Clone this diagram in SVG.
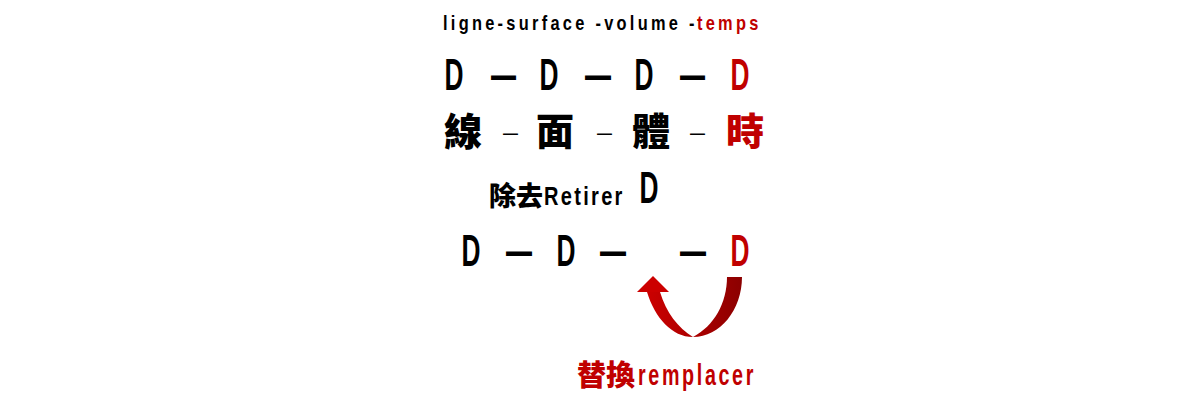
<svg xmlns="http://www.w3.org/2000/svg" width="1200" height="400" viewBox="0 0 1200 400">
<defs>
<style>
.lat{font-family:"Liberation Sans","DejaVu Sans",sans-serif;font-weight:bold;fill:#000}
.cjk{font-family:"Noto Sans CJK TC","Noto Sans CJK SC",sans-serif;font-weight:900;fill:#000}
.red{fill:#c00000}
.d{font-family:"Liberation Sans","DejaVu Sans",sans-serif;font-weight:bold;font-size:44px;text-anchor:middle}
.dash{font-family:"Liberation Sans","DejaVu Sans",sans-serif;font-weight:bold;font-size:44px}
.sd{font-family:"Liberation Sans","DejaVu Sans",sans-serif;font-size:22px}
</style>
<linearGradient id="ag" x1="0" y1="0" x2="1" y2="0">
<stop offset="0" stop-color="#cc0000"/>
<stop offset="1" stop-color="#8b0000"/>
</linearGradient>
</defs>
<rect width="1200" height="400" fill="#fff"/>
<g id="header">
<text class="lat" transform="translate(443 30) scale(0.82 1)" x="0" y="0" font-size="20" letter-spacing="4">ligne-surface -volume -</text>
<text class="lat red" transform="translate(697 30) scale(0.82 1)" x="0" y="0" font-size="20" letter-spacing="4">temps</text>
</g>
<g id="row-d">
<text class="d" x="454" y="90" textLength="19" lengthAdjust="spacingAndGlyphs">D</text>
<text class="dash" x="491" y="90" textLength="25" lengthAdjust="spacingAndGlyphs">—</text>
<text class="d" x="549" y="90" textLength="19" lengthAdjust="spacingAndGlyphs">D</text>
<text class="dash" x="585" y="90" textLength="26" lengthAdjust="spacingAndGlyphs">—</text>
<text class="d" x="644" y="90" textLength="19" lengthAdjust="spacingAndGlyphs">D</text>
<text class="dash" x="680" y="90" textLength="25" lengthAdjust="spacingAndGlyphs">—</text>
<text class="d red" x="740" y="90" textLength="19" lengthAdjust="spacingAndGlyphs">D</text>
</g>
<g id="row-cjk">
<text class="cjk" x="444" y="145" font-size="38">線</text>
<text class="sd" x="503" y="140" textLength="15" lengthAdjust="spacingAndGlyphs">–</text>
<text class="cjk" x="536" y="145" font-size="38">面</text>
<text class="sd" x="597" y="140" textLength="15" lengthAdjust="spacingAndGlyphs">–</text>
<text class="cjk" x="632" y="145" font-size="38">體</text>
<text class="sd" x="690" y="140" textLength="15" lengthAdjust="spacingAndGlyphs">–</text>
<text class="cjk red" x="726" y="145" font-size="38">時</text>
</g>
<g id="retirer">
<text class="cjk" x="489" y="206" font-size="27" font-weight="bold">除去</text>
<text class="lat" transform="translate(544 205) scale(0.77 1)" x="0" y="0" font-size="26" letter-spacing="3">Retirer</text>
<text class="d" x="649" y="203" textLength="19" lengthAdjust="spacingAndGlyphs">D</text>
</g>
<g id="row-removed">
<text class="d" x="471" y="266" textLength="19" lengthAdjust="spacingAndGlyphs">D</text>
<text class="dash" x="506" y="266" textLength="26" lengthAdjust="spacingAndGlyphs">—</text>
<text class="d" x="566" y="266" textLength="19" lengthAdjust="spacingAndGlyphs">D</text>
<text class="dash" x="600" y="266" textLength="26" lengthAdjust="spacingAndGlyphs">—</text>
<text class="dash" x="680" y="266" textLength="26" lengthAdjust="spacingAndGlyphs">—</text>
<text class="d red" x="740" y="266" textLength="19" lengthAdjust="spacingAndGlyphs">D</text>
</g>
<g id="connectors">
<path d="M647 292 C655 318 672 337 693 337 C720 337 742 310 742 277 L727 277 C727 303 714 326 693 337 C678 328 666 312 660 292 Z" fill="url(#ag)"/>
<path d="M637 292 L653 276 L669 292 Z" fill="#cc0000"/>
</g>
<g id="remplacer">
<text class="cjk red" x="577" y="386" font-size="29" font-weight="bold">替換</text>
<text class="lat red" x="638" y="385" font-size="30" letter-spacing="4" textLength="118" lengthAdjust="spacingAndGlyphs">remplacer</text>
</g>
</svg>
